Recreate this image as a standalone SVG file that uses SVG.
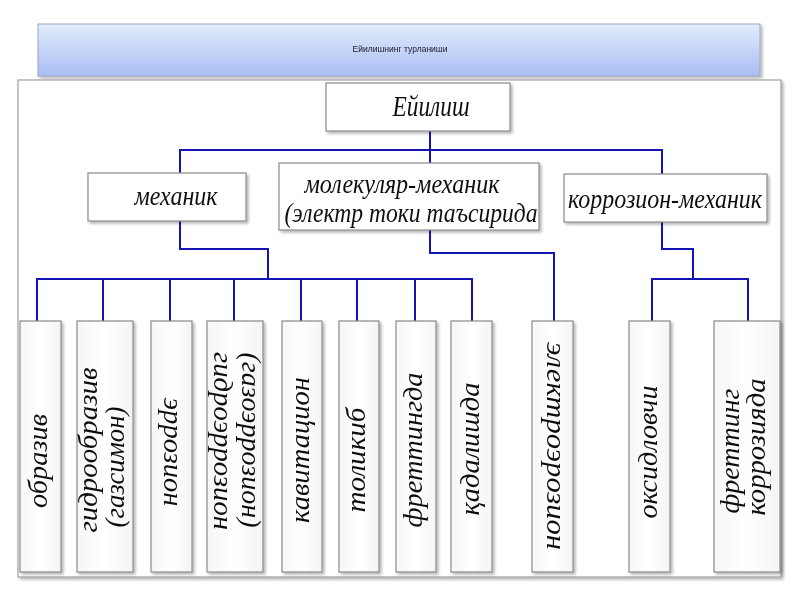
<svg xmlns="http://www.w3.org/2000/svg" width="800" height="600" viewBox="0 0 800 600">
<defs>
<linearGradient id="tg" x1="0" y1="0" x2="0" y2="1">
<stop offset="0" stop-color="#e2ecfc"/>
<stop offset="1" stop-color="#a9bdf3"/>
</linearGradient>
<linearGradient id="bg" x1="0" y1="0" x2="1" y2="0">
<stop offset="0" stop-color="#f6f6f6"/>
<stop offset="0.5" stop-color="#ffffff"/>
<stop offset="1" stop-color="#f4f4f4"/>
</linearGradient>
<filter id="sh" x="-10%" y="-10%" width="130%" height="130%">
<feGaussianBlur in="SourceAlpha" stdDeviation="1.5"/>
<feOffset dx="2" dy="2" result="o"/>
<feComponentTransfer><feFuncA type="linear" slope="0.3"/></feComponentTransfer>
<feMerge><feMergeNode/><feMergeNode in="SourceGraphic"/></feMerge>
</filter>
</defs>
<style>
.box{fill:#ffffff;stroke:#8a8a8a;stroke-width:1.2}
.vbox{fill:url(#bg);stroke:#8a8a8a;stroke-width:1.2}
.t{font-family:"Liberation Serif","Times New Roman",serif;font-style:italic;fill:#111;text-anchor:middle}
.h{font-size:28px}
.v{font-size:28px}
.con{fill:none;stroke:#1414b4;stroke-width:2}
</style>
<rect width="800" height="600" fill="#ffffff"/>
<g id="title" filter="url(#sh)">
<rect x="38" y="24" width="722" height="52" fill="url(#tg)" stroke="#9aa8c0" stroke-width="1"/>
<text x="400" y="52" font-family="Liberation Sans, Arial, sans-serif" font-size="8.5" text-anchor="middle" fill="#1a1a2a" textLength="95" lengthAdjust="spacingAndGlyphs">Ейилишнинг турланиши</text>
</g>
<g id="frame" filter="url(#sh)">
<rect x="18" y="80" width="763" height="497" fill="#ffffff" stroke="#a0a0a0" stroke-width="1.2"/>
</g>
<g id="connectors">
<path class="con" d="M430,131 V150 M180,173 V150 H662 V174 M430,150 V163"/>
<path class="con" d="M180,221 V249 H268 V279"/>
<path class="con" d="M37,321 V279 H472 V321 M103,279 V321 M170,279 V321 M234,279 V321 M301,279 V321 M357,279 V321 M415,279 V321"/>
<path class="con" d="M430,230 V253 H554 V321"/>
<path class="con" d="M662,222 V249 H693 V279 M652,321 V279 H748 V321"/>
</g>
<g id="n-root" filter="url(#sh)">
<rect class="box" x="326" y="83" width="184" height="48"/>
<text class="t" x="431" y="116" font-size="30" textLength="77" lengthAdjust="spacingAndGlyphs">Ейилиш</text>
</g>
<g id="n-mechanic" filter="url(#sh)">
<rect class="box" x="88" y="173" width="158" height="48"/>
<text class="t h" x="176" y="205" textLength="83" lengthAdjust="spacingAndGlyphs">механик</text>
</g>
<g id="n-molecular" filter="url(#sh)">
<rect class="box" x="279" y="163" width="260" height="67"/>
<text class="t h" x="402" y="193" textLength="195" lengthAdjust="spacingAndGlyphs">молекуляр-механик</text>
<text class="t h" x="411" y="222" textLength="253" lengthAdjust="spacingAndGlyphs">(электр токи таъсирида</text>
</g>
<g id="n-corrosion" filter="url(#sh)">
<rect class="box" x="564" y="174" width="203" height="48"/>
<text class="t h" x="665" y="208" textLength="194" lengthAdjust="spacingAndGlyphs">коррозион-механик</text>
</g>
<g id="n-obraziv" filter="url(#sh)">
<rect class="vbox" x="20" y="321" width="41" height="251"/>
<text class="t v" transform="translate(47,461) rotate(-90)" textLength="94" lengthAdjust="spacingAndGlyphs">образив</text>
</g>
<g id="n-gidroobraziv" filter="url(#sh)">
<rect class="vbox" x="77" y="321" width="56" height="251"/>
<text class="t v" transform="translate(97,450) rotate(-90)" textLength="165" lengthAdjust="spacingAndGlyphs">гидрообразив</text>
<text class="t v" transform="translate(124,467) rotate(-90)" textLength="121" lengthAdjust="spacingAndGlyphs">(газсимон)</text>
</g>
<g id="n-errozion" filter="url(#sh)">
<rect class="vbox" x="151" y="321" width="41" height="251"/>
<text class="t v" transform="translate(164,452) rotate(90)" textLength="109" lengthAdjust="spacingAndGlyphs">эррозион</text>
</g>
<g id="n-gidroerrozion" filter="url(#sh)">
<rect class="vbox" x="207" y="321" width="56" height="251"/>
<text class="t v" transform="translate(214,441) rotate(90)" textLength="178" lengthAdjust="spacingAndGlyphs">гидроэррозион</text>
<text class="t v" transform="translate(242,440) rotate(90)" textLength="175" lengthAdjust="spacingAndGlyphs">(газоэррозион)</text>
</g>
<g id="n-kavitatsion" filter="url(#sh)">
<rect class="vbox" x="282" y="321" width="40" height="251"/>
<text class="t v" transform="translate(309,450) rotate(-90)" textLength="146" lengthAdjust="spacingAndGlyphs">кавитацион</text>
</g>
<g id="n-tolikib" filter="url(#sh)">
<rect class="vbox" x="339" y="321" width="40" height="251"/>
<text class="t v" transform="translate(365,460) rotate(-90)" textLength="105" lengthAdjust="spacingAndGlyphs">толикиб</text>
</g>
<g id="n-frettingda" filter="url(#sh)">
<rect class="vbox" x="396" y="321" width="40" height="251"/>
<text class="t v" transform="translate(422,450) rotate(-90)" textLength="155" lengthAdjust="spacingAndGlyphs">фреттингда</text>
</g>
<g id="n-qadalishda" filter="url(#sh)">
<rect class="vbox" x="451" y="321" width="41" height="251"/>
<text class="t v" transform="translate(479,449) rotate(-90)" textLength="133" lengthAdjust="spacingAndGlyphs">қадалишда</text>
</g>
<g id="n-elektroerozion" filter="url(#sh)">
<rect class="vbox" x="532" y="321" width="41" height="251"/>
<text class="t v" transform="translate(547,446) rotate(90)" textLength="208" lengthAdjust="spacingAndGlyphs">электроэрозион</text>
</g>
<g id="n-oksidlovchi" filter="url(#sh)">
<rect class="vbox" x="629" y="321" width="41" height="251"/>
<text class="t v" transform="translate(657,452) rotate(-90)" textLength="133" lengthAdjust="spacingAndGlyphs">оксидловчи</text>
</g>
<g id="n-fretting-korroziya" filter="url(#sh)">
<rect class="vbox" x="714" y="321" width="66" height="251"/>
<text class="t v" transform="translate(739,451) rotate(-90)" textLength="125" lengthAdjust="spacingAndGlyphs">фреттинг</text>
<text class="t v" transform="translate(765,447) rotate(-90)" textLength="137" lengthAdjust="spacingAndGlyphs">коррозияда</text>
</g>
</svg>
